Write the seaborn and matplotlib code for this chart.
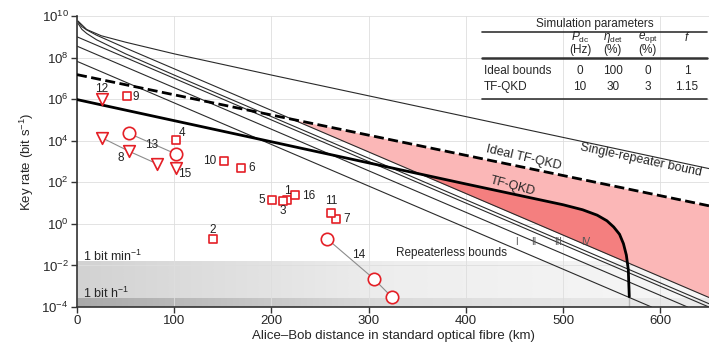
import numpy as np
import matplotlib
matplotlib.use("Agg")
import matplotlib.pyplot as plt
from matplotlib.colors import LinearSegmentedColormap
import seaborn as sns

# ---------------- data (distance in km, log10 of key rate in bit/s) -------------
sr_km = [1, 10, 25, 50, 100, 200, 400, 650]              # single-repeater bound
sr_log = [9.76, 9.35, 9.05, 8.74, 8.18, 7.16, 5.16, 2.66]
b4_km = [1, 5, 10, 20, 50, 100, 650]                     # repeaterless bound (top)
b4_log = [9.74, 9.49, 9.33, 9.08, 8.46, 7.46, -3.54]
b3_km = [1, 5, 10, 20, 50, 100, 650]
b3_log = [9.65, 9.36, 9.16, 8.86, 8.18, 7.16, -3.84]
b2_km = [0, 650]
b2_log = [9.0, -4.0]
b1_km = [0, 628]
b1_log = [8.55, -4.0]
b0_km = [0, 591]
b0_log = [7.82, -4.0]
ideal_km = [0, 650]                                      # ideal TF-QKD (dashed)
ideal_log = [7.18, 0.87]
tf_km = [0, 200, 400, 450, 500, 520, 535, 545, 552, 558, 562, 565, 567, 568, 568]
tf_log = [5.98, 3.95, 1.92, 1.42, 0.92, 0.68, 0.42, 0.15, -0.15, -0.5, -0.95,
          -1.5, -2.2, -3.0, -4.0]

sq_labels = ["1", "2", "3", "4", "5", "6", "7", "9", "10", "11", "16"]
sq_km = [216, 140, 212, 101.6, 201, 169, 266, 51, 151, 261.5, 224]
sq_log = [1.13, -0.73, 1.08, 4.02, 1.17, 2.69, 0.25, 6.14, 3.03, 0.52, 1.37]
tri12_km, tri12_log = [25.3], [5.99]
tri8_km = [25.3, 53.7, 81.8]
tri8_log = [4.15, 3.49, 2.90]
tri15_km, tri15_log = [101.6], [2.71]
c13_km = [53.7, 102.3]
c13_log = [4.35, 3.35]
c14_km = [257, 305, 324]
c14_log = [-0.71, -2.63, -3.53]

per_minute = 1 / 60.0
per_hour = 1 / 3600.0

table_cols = ["$P_{\\rm dc}$", "$\\eta_{\\rm det}$", "$e_{\\rm opt}$", "$f$"]
table_units = ["(Hz)", "(%)", "(%)", ""]
table_rows = ["Ideal bounds", "TF-QKD"]
table_vals = [["0", "100", "0", "1"], ["10", "30", "3", "1.15"]]

# ---------------- style ----------------
sns.set_style("white")
plt.rcParams["font.family"] = ["Liberation Sans", "DejaVu Sans"]
plt.rcParams["mathtext.fontset"] = "custom"
plt.rcParams["mathtext.rm"] = "Liberation Sans"
plt.rcParams["mathtext.it"] = "Liberation Sans:italic"
plt.rcParams["mathtext.bf"] = "Liberation Sans:bold"

RED = "#e41f26"
LINE = "#2a2a2a"

fig = plt.figure(figsize=(7.09, 3.45), dpi=100)
ax = fig.add_axes([0.1086, 0.110, 0.8914, 0.8436])
ax.set_yscale("log")


def R(v):
    return 10 ** np.asarray(v, dtype=float)


# gray gradients for 1 bit/min and 1 bit/h
grad = np.linspace(0, 1, 256)[None, :]
cm1 = LinearSegmentedColormap.from_list("g1", ["#d2d2d2", "#eeeeee", "#f7f7f7"])
cm2 = LinearSegmentedColormap.from_list("g2", ["#a9a9a9", "#dcdcdc", "#ececec"])
ax.imshow(grad, cmap=cm1, extent=[0, 650, 1e-4, per_minute], aspect="auto",
          interpolation="bilinear", zorder=0)
ax.imshow(grad, cmap=cm2, extent=[0, 650, 1e-4, per_hour], aspect="auto",
          interpolation="bilinear", zorder=0)

# shaded regions
xg = np.linspace(0, 650, 2601)
top_bound = np.interp(xg, b4_km, b4_log)
ideal_g = np.interp(xg, ideal_km, ideal_log)
tf_g = np.interp(xg, tf_km[:-1], tf_log[:-1], right=-10)
ax.fill_between(xg, R(top_bound), R(ideal_g), where=ideal_g > top_bound,
                color="#fbb7b7", lw=0, zorder=1, interpolate=True)
ax.fill_between(xg, R(top_bound), R(tf_g), where=tf_g > top_bound,
                color="#f47f7f", lw=0, zorder=1.1, interpolate=True)

# bound lines
for km, lg in [(sr_km, sr_log), (b4_km, b4_log), (b3_km, b3_log),
               (b2_km, b2_log), (b1_km, b1_log), (b0_km, b0_log)]:
    sns.lineplot(x=km, y=R(lg), ax=ax, color=LINE, lw=0.8, zorder=2)

sns.lineplot(x=ideal_km, y=R(ideal_log), ax=ax, color="black", lw=2.0,
             linestyle=(0, (3.6, 1.6)), zorder=3)
sns.lineplot(x=tf_km, y=R(tf_log), ax=ax, color="black", lw=2.0, zorder=3,
             sort=False)

# experimental points
for km, lg in [(tri8_km, tri8_log), (c13_km, c13_log), (c14_km, c14_log)]:
    sns.lineplot(x=km, y=R(lg), ax=ax, color="#8c8c8c", lw=0.8, zorder=4)

mk = dict(facecolor="white", edgecolor=RED, linewidth=1.2, zorder=5, ax=ax, legend=False)
sns.scatterplot(x=sq_km, y=R(sq_log), marker="s", s=38, **mk)
sns.scatterplot(x=tri12_km + tri8_km + tri15_km, y=R(tri12_log + tri8_log + tri15_log),
                marker="v", s=70, **mk)
sns.scatterplot(x=c13_km + c14_km, y=R(c13_log + c14_log), marker="o", s=80, **mk)

lab_kw = dict(textcoords="offset points", ha="center", va="center", fontsize=8.5,
              color="#222222", zorder=6)
offsets = {"1": (0, 6.5), "2": (0, 6.5), "3": (0, -7.2), "4": (4.3, 5), "5": (-7.7, 0),
           "6": (7.4, 0), "7": (8, 0), "9": (6.7, -0.7), "10": (-10, 0),
           "11": (0, 9), "16": (10, -0.5)}
for lab, km, lg in zip(sq_labels, sq_km, sq_log):
    ax.annotate(lab, (km, 10 ** lg), xytext=offsets[lab], **lab_kw)
ax.annotate("12", (tri12_km[0], 10 ** tri12_log[0]), xytext=(0, 7.4), **lab_kw)
ax.annotate("8", (tri8_km[1], 10 ** tri8_log[1]), xytext=(-6, -5), **lab_kw)
ax.annotate("15", (tri15_km[0], 10 ** tri15_log[0]), xytext=(6.5, -4.3), **lab_kw)
ax.annotate("13", (c13_km[0], 10 ** c13_log[0]), xytext=(16.3, -8.4), **lab_kw)
ax.annotate("14", (c14_km[0], 10 ** c14_log[0]), xytext=(22.8, -12), **lab_kw)

# curve labels
ax.text(459, 10 ** 3.2, "Ideal TF-QKD", rotation=-13, ha="center", va="center",
        fontsize=9, zorder=6)
ax.text(448, 10 ** 1.81, "TF-QKD", rotation=-15, ha="center", va="center",
        fontsize=9, zorder=6)
ax.text(580, 10 ** 3.06, "Single-repeater bound", rotation=-12, ha="center",
        va="center", fontsize=9, zorder=6)
ax.text(385, 10 ** -1.42, "Repeaterless bounds", ha="center", va="center",
        fontsize=8.5, zorder=6)
for lab, km in zip(["I", "II", "III", "IV"], [452, 470, 495, 523]):
    ax.text(km, 10 ** -0.89, lab, ha="center", va="center", fontsize=7,
            color="#555555", zorder=6)
ax.text(6, 10 ** -1.57, "1 bit min$^{-1}$", ha="left", va="center", fontsize=9, zorder=6)
ax.text(6, 10 ** -3.35, "1 bit h$^{-1}$", ha="left", va="center", fontsize=9, zorder=6)

# parameters table (axes fraction coordinates)
T = ax.transAxes
ax.text(0.820, 0.973, "Simulation parameters", transform=T, ha="center", va="center",
        fontsize=8.5)
ax.plot([0.641, 0.997], [0.945, 0.945], transform=T, color="#333333", lw=1.2)
col_x = [0.796, 0.848, 0.903, 0.965]
for cx, c, u in zip(col_x, table_cols, table_units):
    ax.text(cx, 0.926, c, transform=T, ha="center", va="center", fontsize=8.5)
    if u:
        ax.text(cx, 0.883, u, transform=T, ha="center", va="center", fontsize=8.5)
ax.plot([0.641, 0.997], [0.856, 0.856], transform=T, color="#333333", lw=1.8)
for ry, rname, vals in zip([0.811, 0.756], table_rows, table_vals):
    ax.text(0.644, ry, rname, transform=T, ha="left", va="center", fontsize=8.5)
    for cx, v in zip(col_x, vals):
        ax.text(cx, ry, v, transform=T, ha="center", va="center", fontsize=8.5)
ax.plot([0.641, 0.997], [0.715, 0.715], transform=T, color="#333333", lw=1.2)

# axes
ax.set_xlim(0, 650)
ax.set_ylim(1e-4, 1e10)
ax.set_xticks([0, 100, 200, 300, 400, 500, 600])
ax.set_yticks([10.0 ** k for k in range(-4, 11, 2)])
ax.yaxis.set_minor_locator(matplotlib.ticker.NullLocator())
ax.grid(True, color="#dedede", lw=0.6)
ax.set_axisbelow(True)
for s in ["top", "right"]:
    ax.spines[s].set_visible(False)
for s in ["left", "bottom"]:
    ax.spines[s].set_color("#333333")
    ax.spines[s].set_linewidth(1.2)
ax.tick_params(axis="both", direction="out", length=4, width=1.0, color="#333333",
               labelsize=9.5, pad=2, left=True, bottom=True)
ax.set_xlabel("Alice\u2013Bob distance in standard optical fibre (km)", fontsize=9.5,
              labelpad=2)
ax.set_ylabel("Key rate (bit s$^{-1}$)", fontsize=9.5, labelpad=4)

fig.savefig("out.png", dpi=100)
